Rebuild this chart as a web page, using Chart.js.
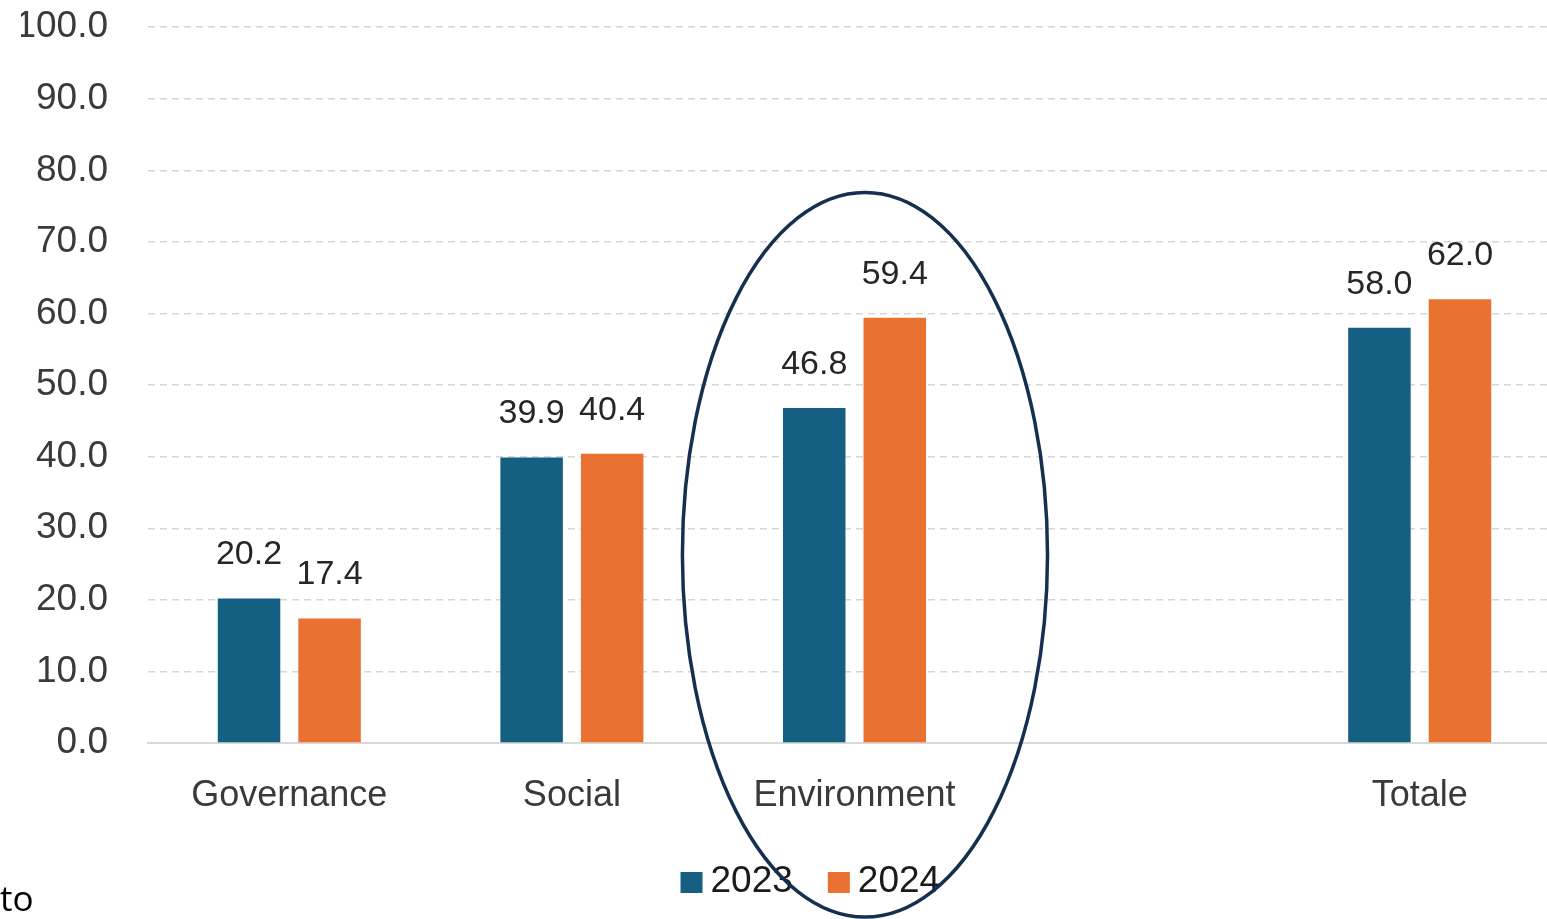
<!DOCTYPE html>
<html>
<head>
<meta charset="utf-8">
<script src="https://cdn.jsdelivr.net/npm/chart.js@4.4.1/dist/chart.umd.min.js"></script>
<style>
  html, body { margin: 0; padding: 0; background: #ffffff; overflow: hidden; }
  #wrap { position: absolute; left: 0; top: 0; width: 1561px; height: 919px; }
  #note { position: absolute; left: 0; top: 874px; font-family: "Open Sans", sans-serif; font-size: 35px; color: #000; }
</style>
</head>
<body>
<div id="wrap"><canvas id="esgChart"></canvas></div>
<div id="note">to</div>
<script>
  // values
  const categories = ['Governance', 'Social', 'Environment', '', 'Totale'];
  const values2023 = [20.2, 39.9, 46.8, null, 58.0];
  const values2024 = [17.4, 40.4, 59.4, null, 62.0];
  const yTicks = [0, 10, 20, 30, 40, 50, 60, 70, 80, 90, 100];

  const blue = '#156082';
  const orange = '#E97132';
  const fontFam = '"Liberation Sans", Arial, sans-serif';

  // value labels above each bar
  const barLabels = {
    id: 'barLabels',
    afterDatasetsDraw(chart) {
      const ctx = chart.ctx;
      ctx.save();
      ctx.font = '34px ' + fontFam;
      ctx.fillStyle = '#262626';
      ctx.textAlign = 'center';
      ctx.textBaseline = 'alphabetic';
      chart.data.datasets.forEach((ds, i) => {
        let meta = chart.getDatasetMeta(i);
        meta.data.forEach((bar, j) => {
          let v = ds.data[j];
          if (v === null) return;
          ctx.fillText(Number(v).toFixed(1), bar.x, bar.y - 34);
        });
      });
      ctx.restore();
    }
  };

  // legend drawn by hand so the squares sit tight to the years
  const yearLegend = {
    id: 'yearLegend',
    afterDraw(chart) {
      const ctx = chart.ctx;
      ctx.save();
      ctx.font = '37px ' + fontFam;
      ctx.textBaseline = 'middle';
      ctx.textAlign = 'left';
      let x = chart.width / 2 - 100;
      let y = chart.chartArea.bottom + 139;
      chart.data.datasets.forEach((ds) => {
        ctx.fillStyle = ds.backgroundColor;
        ctx.fillRect(x, y - 10, 22, 21);
        x += 22 + 8;
        ctx.fillStyle = '#1a1a1a';
        ctx.fillText(ds.label, x, y);
        x += ctx.measureText(ds.label).width + 35;
      });
      ctx.restore();
    }
  };

  // the hand drawn ring round Environment
  const ring = {
    id: 'ring',
    afterDraw(chart) {
      const ctx = chart.ctx;
      let xs = chart.scales.x, ys = chart.scales.y;
      let catW = xs.getPixelForValue(1) - xs.getPixelForValue(0);
      let cx = xs.getPixelForValue(2) + catW * 0.037;
      let cy = ys.getPixelForValue(26.3);
      let rx = catW * 0.646;
      let ry = ys.getPixelForValue(0) - ys.getPixelForValue(50.6);
      ctx.save();
      ctx.strokeStyle = '#14304F';
      ctx.lineWidth = 3.5;
      ctx.beginPath();
      ctx.ellipse(cx, cy, rx, ry, 0, 0, Math.PI * 2);
      ctx.stroke();
      ctx.restore();
    }
  };

  let chart;
  function createChart() {
    const ctx = document.getElementById('esgChart').getContext('2d');
    chart = new Chart(ctx, {
      type: 'bar',
      data: {
        labels: categories,
        datasets: [{
          label: '2023',
          data: values2023,
          backgroundColor: blue,
          borderWidth: 0
        },
        {
          label: '2024',
          data: values2024,
          backgroundColor: orange,
          borderWidth: 0
        }]
      },
      options: {
        responsive: true,
        maintainAspectRatio: false,
        animation: false,
        categoryPercentage: 0.57,
        barPercentage: 0.776,
        layout: { padding: { left: 21, top: 27, right: 0, bottom: 0 } },
        plugins: {
          tooltip: { enabled: false },
          legend: { display: false }
        },
        scales: {
          x: {
            grid: { display: false, drawTicks: false },
            border: { display: true, color: '#d9d9d9', width: 2 },
            ticks: {
              padding: 31,
              color: '#3a3a3a',
              font: { family: fontFam, size: 36 }
            },
            afterFit: function (scale) {
              scale.height = 176;
            }
          },
          y: {
            min: 0,
            max: 100,
            afterBuildTicks: function (scale) {
              scale.ticks = yTicks.map(v => ({ value: v }));
            },
            afterFit: function (scale) {
              scale.width = 127;
            },
            border: { display: false, dash: [7, 5] },
            grid: {
              drawTicks: true,
              tickLength: 35,
              tickColor: 'rgba(0,0,0,0)',
              color: function (c) {
                return c.tick && c.tick.value === 0 ? 'rgba(0,0,0,0)' : '#d6d6d6';
              },
              lineWidth: 1.5
            },
            ticks: {
              padding: 5,
              color: '#3a3a3a',
              font: { family: fontFam, size: 37 },
              callback: function (value) {
                return Number(value).toFixed(1);
              }
            }
          }
        }
      },
      plugins: [barLabels, yearLegend, ring]
    });
  }
  createChart();
</script>
</body>
</html>
